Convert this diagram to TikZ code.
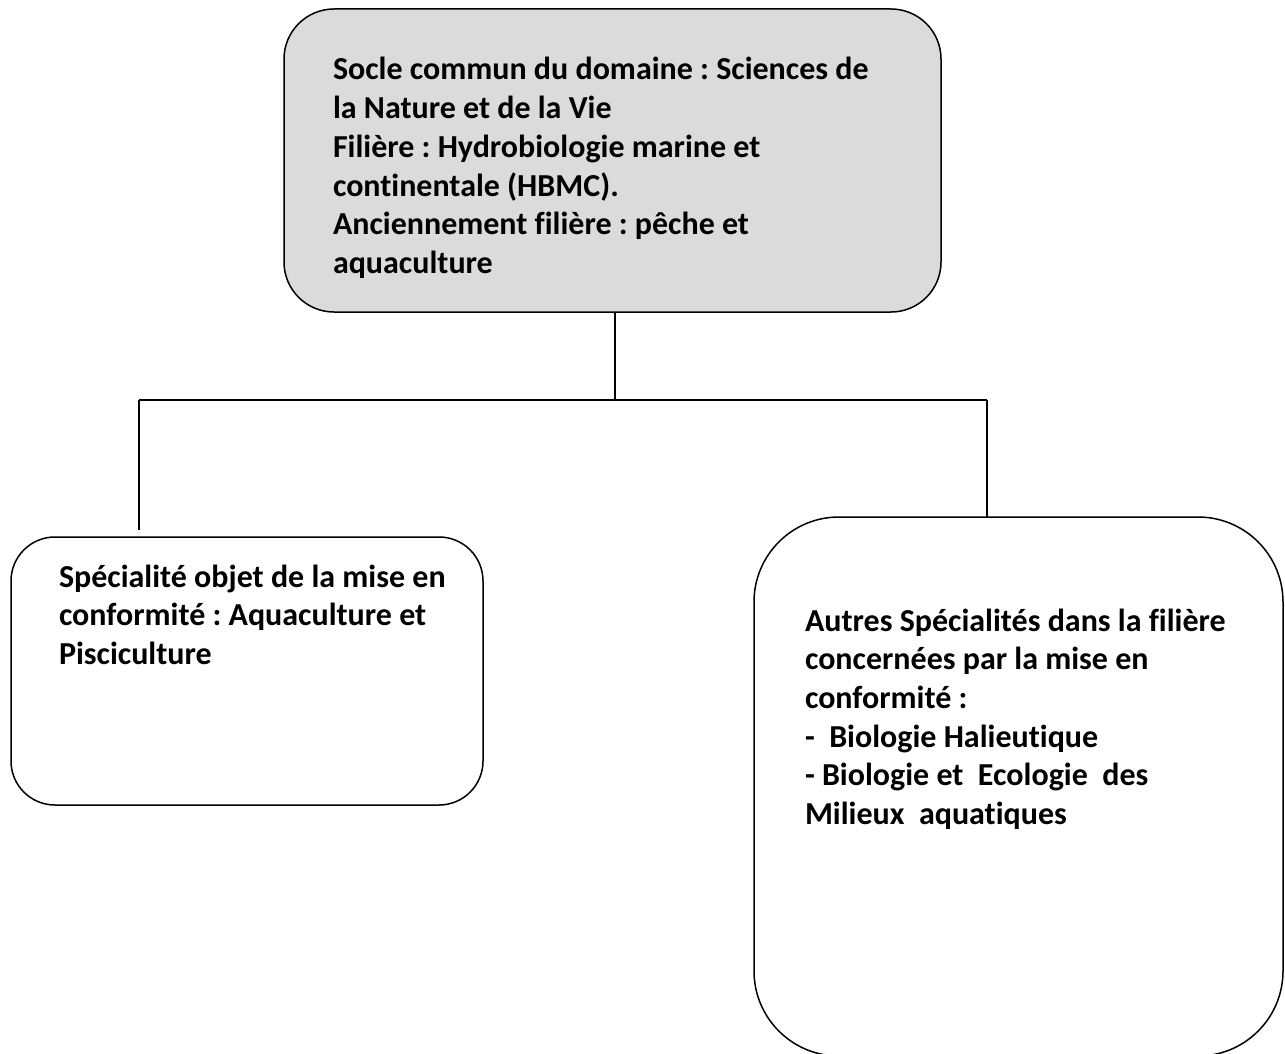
\documentclass[tikz,border=0pt]{standalone}
\usepackage{fontspec}
\setmainfont{Carlito}[Ligatures=NoCommon]
\definecolor{boxgray}{HTML}{DBDBDB}
\frenchspacing
\begin{document}
\begin{tikzpicture}[x=1pt,y=-1pt,
  box/.style={draw=black, line width=1.5pt, outer sep=0pt, inner sep=0pt},
  conn/.style={draw=black, line width=1.5pt},
  txt/.style={anchor=base west, inner sep=0pt, outer sep=0pt, font=\fontsize{32}{38.7}\selectfont\bfseries}]
\useasboundingbox (0,0) rectangle (1285,1054);
% boxes
\node[box, fill=boxgray, rounded corners=50pt, minimum width=657pt, minimum height=303pt] (top) at (612.5,160.5) {};
\node[box, rounded corners=44pt, minimum width=472pt, minimum height=268pt] (lb) at (247,671) {};
\node[box, rounded corners=85pt, minimum width=529pt, minimum height=539pt] (rb) at (1018.5,786.5) {};
% connectors
\coordinate (hub) at (615,400);
\coordinate (jl) at (139,400);
\coordinate (jr) at (987,400);
\draw[conn] (hub |- top.south) -- (hub);
\draw[conn] (jl) -- (jr);
\draw[conn, shorten >=7pt] (jl) -- (jl |- lb.north);
\draw[conn] (jr) -- (jr |- rb.north);
% texts
\node[txt] (ttop) at (333,80) {\parbox[t]{600pt}{\raggedright Socle commun du domaine : Sciences de\\ la Nature et de la Vie\\ Filière : Hydrobiologie marine et\\ continentale (HBMC).\\ Anciennement filière : pêche et\\ aquaculture}};
\node[txt] (tlb) at (59,587) {\parbox[t]{420pt}{\raggedright Spécialité objet de la mise en\\ conformité : Aquaculture et\\ Pisciculture}};
\node[txt] (trb) at (805,631) {\parbox[t]{470pt}{\raggedright Autres Spécialités dans la filière\\ concernées par la mise en\\ conformité :\\ -~ Biologie Halieutique\\ - Biologie et~ Ecologie~ des\\ Milieux~ aquatiques}};
\end{tikzpicture}
\end{document}
